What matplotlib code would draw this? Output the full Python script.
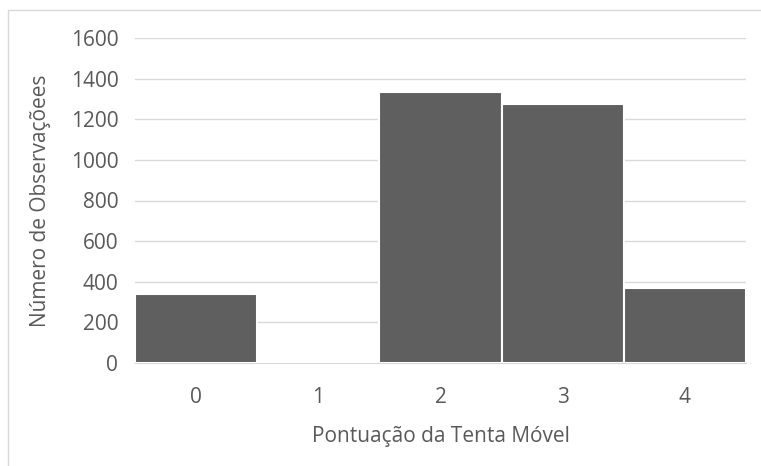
import matplotlib.pyplot as plt
from matplotlib.patches import Rectangle

# Pontuação e número de observações
pontuacao = ['0', '1', '2', '3', '4']
observacoes = [340, 0, 1333, 1275, 371]
yticks = [0, 200, 400, 600, 800, 1000, 1200, 1400, 1600]

plt.rcParams['font.family'] = ['Open Sans', 'DejaVu Sans']
cinza_texto = '#595959'
tam = 15

fig = plt.figure(figsize=(7.61, 4.66), dpi=100)

# moldura do gráfico
fig.patches.append(Rectangle((8 / 761, -0.05), 1.0, 1 - 10 / 466 + 0.05,
                             transform=fig.transFigure, fill=False,
                             edgecolor='#d9d9d9', linewidth=1.0))

ax = fig.add_axes([135 / 761, 1 - 363 / 466, (746 - 135) / 761, (363 - 38) / 466])

x = range(len(pontuacao))
ax.bar(x, observacoes, width=1.0, color='#5f5f5f', edgecolor='white',
       linewidth=1.5, zorder=3)

ax.set_xlim(-0.5, len(pontuacao) - 0.5)
ax.set_ylim(0, 1600)
ax.set_yticks(yticks)
ax.set_xticks(list(x))
ax.set_xticklabels(pontuacao)

ax.grid(axis='y', color='#d9d9d9', linewidth=1.0, zorder=0)
for lado in ['top', 'right', 'left']:
    ax.spines[lado].set_visible(False)
ax.spines['bottom'].set_color('#d9d9d9')
ax.tick_params(axis='both', length=0, colors=cinza_texto, labelsize=tam)
ax.tick_params(axis='y', pad=12)
ax.tick_params(axis='x', pad=17)

ax.set_xlabel('Pontuação da Tenta Móvel', color=cinza_texto, fontsize=tam, labelpad=13)
ax.set_ylabel('Número de Observaçõees', color=cinza_texto, fontsize=tam, labelpad=14)

fig.savefig('out.png', dpi=100)
